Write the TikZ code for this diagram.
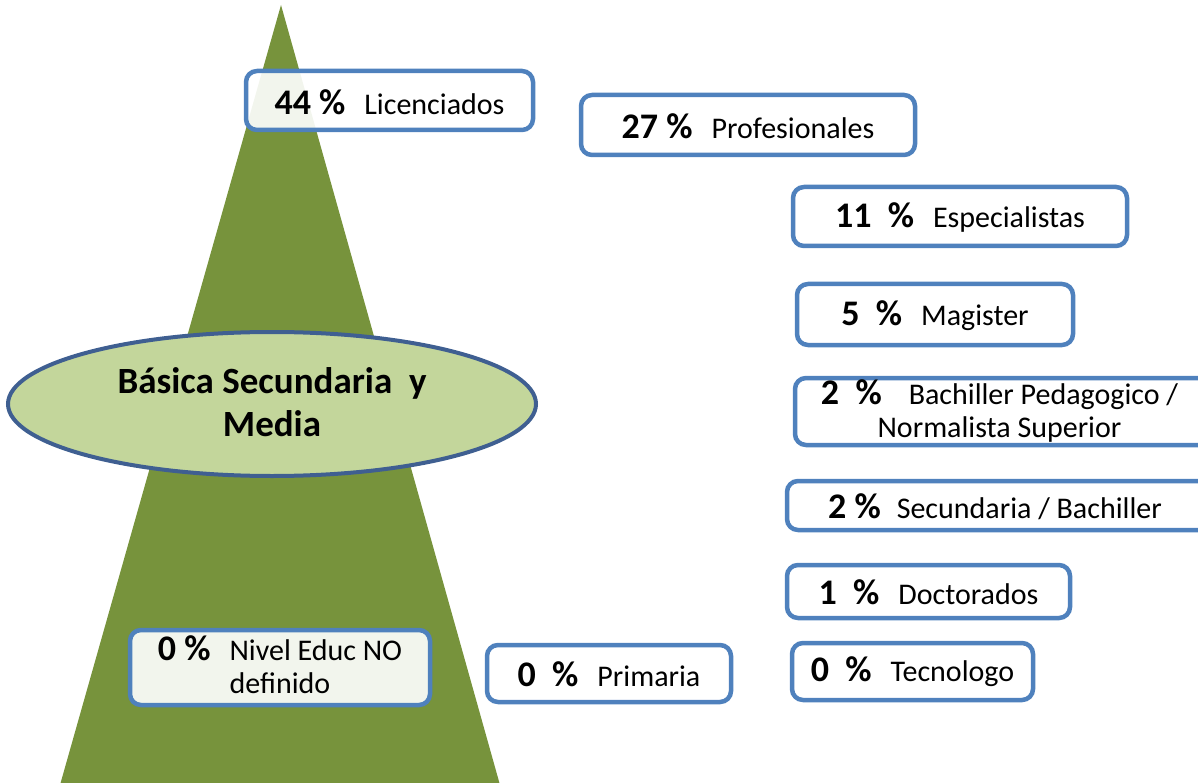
\documentclass[tikz,border=0pt]{standalone}
\usepackage{fontspec}
\setmainfont{Carlito}
\usetikzlibrary{shapes.geometric}
\definecolor{trigreen}{HTML}{77933C}
\definecolor{ellfill}{HTML}{C3D69B}
\definecolor{elldraw}{HTML}{3F5F91}
\definecolor{boxblue}{HTML}{4F81BD}
\newcommand{\pct}[1]{{\fontsize{36}{40}\selectfont\bfseries #1}}
\newcommand{\gp}{\hspace{19pt}}
\tikzset{
  box/.style={draw=boxblue, line width=4.5pt, rounded corners=11pt, fill=white, fill opacity=0.91, inner sep=0pt},
  lbl/.style={font=\fontsize{30}{33}\selectfont, align=center, inner sep=0pt, text=black},
}
\begin{document}
\begin{tikzpicture}[x=1pt,y=-1pt]
\useasboundingbox (0,0) rectangle (1198,783);
\clip (0,0) rectangle (1198,783);
% triangle
\fill[trigreen] (281,5) -- (500,785) -- (60,785) -- cycle;
% ellipse
\node[ellipse, draw=elldraw, line width=4pt, fill=ellfill, minimum width=528pt, minimum height=144pt, inner sep=0pt] (ell) at (272,404) {};
\node[font=\fontsize{37}{43}\selectfont\bfseries, align=center, inner sep=0pt] (elltext) at (272,402) {Básica Secundaria\ \ y\\Media};
% boxes
\node[box, minimum width=287pt, minimum height=59pt] (b1) at (389.5,100.5) {};
\node[lbl] (t1) at (389.5,102) {\pct{44 \%}\gp Licenciados};
\node[box, minimum width=334pt, minimum height=60pt] (b2) at (748,125) {};
\node[lbl] (t2) at (748,126) {\pct{27 \%}\gp Profesionales};
\node[box, minimum width=334pt, minimum height=59pt] (b3) at (960,216.5) {};
\node[lbl] (t3) at (960,218) {\pct{11\ \ \%}\gp Especialistas};
\node[box, minimum width=276pt, minimum height=61pt] (b4) at (935,314.5) {};
\node[lbl] (t4) at (935,316) {\pct{5\ \ \%}\gp Magister};
\node[box, minimum width=415pt, minimum height=67pt] (b5) at (1002.5,411.5) {};
\node[lbl] (t5) at (999.5,411) {\pct{2\ \ \%}\hspace{27pt}Bachiller Pedagogico /\\Normalista Superior};
\node[box, minimum width=423pt, minimum height=49pt] (b6) at (998.5,505.5) {};
\node[lbl] (t6) at (995,507) {\pct{2 \%}\hspace{16pt}Secundaria / Bachiller};
\node[box, minimum width=283pt, minimum height=53pt] (b7) at (928.5,591.5) {};
\node[lbl] (t7) at (928.5,592) {\pct{1\ \ \%}\gp Doctorados};
\node[box, minimum width=241pt, minimum height=57pt] (b8) at (912.5,671.5) {};
\node[lbl] (t8) at (912.5,672) {\pct{0\ \ \%}\gp Tecnologo};
\node[box, minimum width=244pt, minimum height=57pt] (b9) at (609,673.5) {};
\node[lbl] (t9) at (609,674) {\pct{0\ \ \%}\gp Primaria};
\node[box, minimum width=300pt, minimum height=75pt] (b10) at (280,667.5) {};
\node[lbl] (t10) at (280,665) {\pct{0 \%}\gp Nivel Educ NO\\definido};
\end{tikzpicture}
\end{document}
